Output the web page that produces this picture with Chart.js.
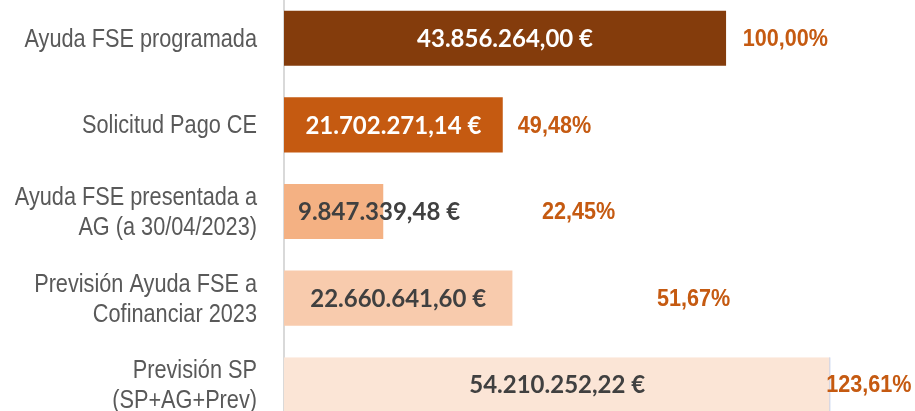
<!DOCTYPE html>
<html>
<head>
<meta charset="utf-8">
<script src="https://cdn.jsdelivr.net/npm/chart.js@4.4.0/dist/chart.umd.min.js"></script>
<style>
  html, body { margin: 0; padding: 0; background: #fff; overflow: hidden; }
  .chart-container { position: absolute; left: 0; top: -5px; width: 915px; height: 433px; }
</style>
</head>
<body>
<div class="chart-container"><canvas id="chart"></canvas></div>
<script>
// Data
const categories = [
  'Ayuda FSE programada',
  'Solicitud Pago CE',
  ['Ayuda FSE presentada a', 'AG (a 30/04/2023)'],
  ['Previsión Ayuda FSE a', 'Cofinanciar 2023'],
  ['Previsión SP', '(SP+AG+Prev)']
];
const amounts = [43856264.00, 21702271.14, 9847339.48, 22660641.60, 54210252.22];
const percentages = [100.00, 49.48, 22.45, 51.67, 123.61];

// Styling / layout
const barColors = ['#843C0C', '#C55A11', '#F4B183', '#F8CBAD', '#FBE5D6'];
const valueColors = ['#ffffff', '#ffffff', '#404040', '#404040', '#404040'];
const pctLabelAt = [45500000, 23200000, 25600000, 37000000, 53800000]; // where the % label starts, in axis units

const euro = v => v.toLocaleString('de-DE', { minimumFractionDigits: 2, maximumFractionDigits: 2 }) + ' €';
const pct = v => v.toLocaleString('de-DE', { minimumFractionDigits: 2, maximumFractionDigits: 2 }) + '%';

// narrow text, the original uses Arial Narrow which is not installed
function narrowText(ctx, text, x, y, squeeze) {
  ctx.save();
  ctx.translate(x, y);
  ctx.scale(squeeze, 1);
  ctx.fillText(text, 0, 0);
  ctx.restore();
}

const labelsPlugin = {
  id: 'barLabels',
  afterDatasetsDraw(chart) {
    const ctx = chart.ctx;
    const meta = chart.getDatasetMeta(0);
    const xScale = chart.scales.x;
    const yScale = chart.scales.y;
    ctx.save();

    // category labels
    ctx.font = '26px "Liberation Sans", Arial, sans-serif';
    ctx.fillStyle = '#595959';
    ctx.textAlign = 'right';
    ctx.textBaseline = 'alphabetic';
    categories.forEach((cat, i) => {
      const lines = Array.isArray(cat) ? cat : [cat];
      const y = yScale.getPixelForTick(i);
      lines.forEach((line, j) => {
        const ly = y + (j - (lines.length - 1) / 2) * 30 + 8.5;
        narrowText(ctx, line, 257, ly, 0.835);
      });
    });

    ctx.textBaseline = 'middle';
    meta.data.forEach((bar, i) => {
      // value inside the bar, centred unless it does not fit
      ctx.font = 'bold 24px Lato, "Open Sans", sans-serif';
      ctx.fillStyle = valueColors[i];
      ctx.textAlign = 'center';
      const text = euro(amounts[i]);
      const w = ctx.measureText(text).width;
      const cx = Math.max((bar.base + bar.x) / 2, bar.base + 14 + w / 2);
      ctx.fillText(text, cx, bar.y + 1);

      // percentage label
      ctx.font = 'bold 24px "Liberation Sans", Arial, sans-serif';
      ctx.fillStyle = '#C55A11';
      ctx.textAlign = 'left';
      narrowText(ctx, pct(percentages[i]), xScale.getPixelForValue(pctLabelAt[i]), bar.y + 1, 0.9);
    });
    ctx.restore();
  }
};

const ctx = document.getElementById('chart').getContext('2d');
new Chart(ctx, {
  type: 'bar',
  data: {
    labels: categories,
    datasets: [{
      data: amounts,
      backgroundColor: barColors,
      borderColor: ['rgba(0,0,0,0)', 'rgba(0,0,0,0)', 'rgba(0,0,0,0)', 'rgba(0,0,0,0)', '#8FAADC'],
      borderWidth: [0, 0, 0, 0, { right: 1, left: 0, top: 0, bottom: 0 }],
      borderSkipped: false,
      barPercentage: 0.636,
      categoryPercentage: 1
    }]
  },
  options: {
    indexAxis: 'y',
    responsive: true,
    maintainAspectRatio: false,
    animation: false,
    layout: { padding: 0 },
    plugins: {
      legend: { display: false },
      tooltip: { enabled: false }
    },
    scales: {
      x: {
        min: 0,
        max: 62600000,
        display: false
      },
      y: {
        grid: { display: false, drawTicks: false },
        border: { display: true, color: '#d9d9d9', width: 2 },
        ticks: { display: false },
        afterFit(scale) {
          scale.width = 284;
          scale.paddingTop = 0;
          scale.paddingBottom = 0;
        }
      }
    }
  },
  plugins: [labelsPlugin]
});
</script>
</body>
</html>
